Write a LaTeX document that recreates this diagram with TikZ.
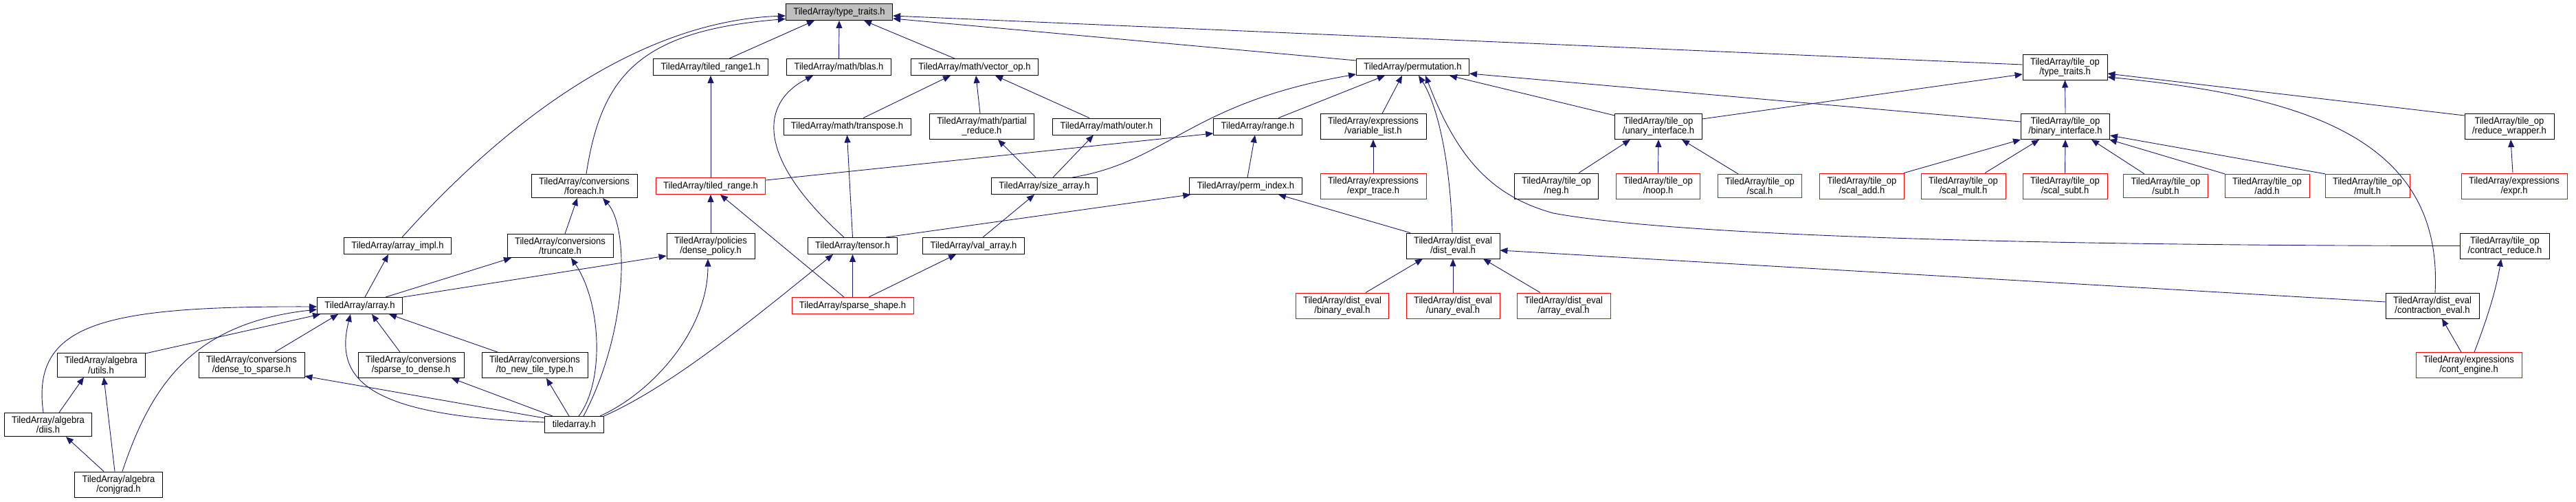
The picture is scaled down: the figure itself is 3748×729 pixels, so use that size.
\documentclass[tikz,border=0pt]{standalone}
\usepackage{fontspec}
\setmainfont{Liberation Sans}[FakeStretch=0.93]
\usetikzlibrary{arrows.meta}

\definecolor{edgeblue}{HTML}{191970}
\definecolor{topgray}{HTML}{BFBFBF}

\tikzset{
  hdr/.style={draw=black, line width=0.9pt, inner xsep=11pt, inner ysep=5pt,
    minimum height=24pt, align=center, font=\fontsize{14}{13}\selectfont},
  hdrred/.style={hdr, draw=red},
  hdrtop/.style={hdr, fill=topgray},
  dep/.style={draw=edgeblue, line width=0.9pt, ->},
}

\begin{document}
\begin{tikzpicture}[x=1pt, y=-1pt, >={Triangle[length=11pt, width=9pt]}]

\useasboundingbox (0,0) rectangle (3748,729);

\pgfmathsetmacro{\ya}{17.5}
\pgfmathsetmacro{\yb}{97.5}
\pgfmathsetmacro{\yc}{184}
\pgfmathsetmacro{\yd}{270.5}
\pgfmathsetmacro{\ye}{357.5}
\pgfmathsetmacro{\yf}{444.5}
\pgfmathsetmacro{\yg}{531}
\pgfmathsetmacro{\yh}{617.5}
\pgfmathsetmacro{\yi}{704.5}

\node[hdrtop] (tt) at (1221,\ya) {TiledArray/type\_traits.h};

\node[hdr] (tr1)   at (1034,\yb)   {TiledArray/tiled\_range1.h};
\node[hdr] (blas)  at (1220.5,\yb) {TiledArray/math/blas.h};
\node[hdr] (vop)   at (1418,\yb)   {TiledArray/math/vector\_op.h};
\node[hdr] (perm)  at (2055.5,\yb) {TiledArray/permutation.h};
\node[hdr] (tott)  at (3004.5,\yb) {TiledArray/tile\_op\\/type\_traits.h};

\node[hdr] (trans) at (1232.5,\yc) {TiledArray/math/transpose.h};
\node[hdr] (pred)  at (1428.5,\yc) {TiledArray/math/partial\\\_reduce.h};
\node[hdr] (outer) at (1610,\yc)   {TiledArray/math/outer.h};
\node[hdr] (range) at (1830,\yc)   {TiledArray/range.h};
\node[hdr] (varl)  at (1998,\yc)   {TiledArray/expressions\\/variable\_list.h};
\node[hdr] (unif)  at (2413,\yc)   {TiledArray/tile\_op\\/unary\_interface.h};
\node[hdr] (binif) at (3005,\yc)   {TiledArray/tile\_op\\/binary\_interface.h};
\node[hdr] (redw)  at (3651,\yc)   {TiledArray/tile\_op\\/reduce\_wrapper.h};

\node[hdr]    (foreach) at (850,\yd)    {TiledArray/conversions\\/foreach.h};
\node[hdrred] (trng)    at (1034,\yd)   {TiledArray/tiled\_range.h};
\node[hdr]    (sarr)    at (1519.5,\yd) {TiledArray/size\_array.h};
\node[hdr]    (pidx)    at (1812.5,\yd) {TiledArray/perm\_index.h};
\node[hdrred] (extr)    at (1998,\yd)   {TiledArray/expressions\\/expr\_trace.h};
\node[hdr]    (neg)     at (2264.5,\yd) {TiledArray/tile\_op\\/neg.h};
\node[hdrred] (noop)    at (2412.5,\yd) {TiledArray/tile\_op\\/noop.h};
\node[hdrred] (scal)    at (2560.5,\yd) {TiledArray/tile\_op\\/scal.h};
\node[hdrred] (scadd)   at (2709,\yd)   {TiledArray/tile\_op\\/scal\_add.h};
\node[hdrred] (scmul)   at (2856.5,\yd) {TiledArray/tile\_op\\/scal\_mult.h};
\node[hdrred] (scsub)   at (3004.5,\yd) {TiledArray/tile\_op\\/scal\_subt.h};
\node[hdrred] (subt)    at (3151,\yd)   {TiledArray/tile\_op\\/subt.h};
\node[hdrred] (add)     at (3298.5,\yd) {TiledArray/tile\_op\\/add.h};
\node[hdrred] (mult)    at (3444.5,\yd) {TiledArray/tile\_op\\/mult.h};
\node[hdrred] (expr)    at (3658,\yd)   {TiledArray/expressions\\/expr.h};

\node[hdr] (aimpl)   at (578.5,\ye)  {TiledArray/array\_impl.h};
\node[hdr] (trunc)   at (815,\ye)    {TiledArray/conversions\\/truncate.h};
\node[hdr] (dpol)    at (1034,\ye)   {TiledArray/policies\\/dense\_policy.h};
\node[hdr] (tensor)  at (1240.5,\ye) {TiledArray/tensor.h};
\node[hdr] (varr)    at (1416.5,\ye) {TiledArray/val\_array.h};
\node[hdr] (deval)   at (2114,\ye)   {TiledArray/dist\_eval\\/dist\_eval.h};
\node[hdr] (creduce) at (3644.5,\ye) {TiledArray/tile\_op\\/contract\_reduce.h};

\node[hdr]    (array)  at (523.5,\yf)  {TiledArray/array.h};
\node[hdrred] (sshape) at (1240.5,\yf) {TiledArray/sparse\_shape.h};
\node[hdrred] (beval)  at (1953,\yf)   {TiledArray/dist\_eval\\/binary\_eval.h};
\node[hdrred] (ueval)  at (2114,\yf)   {TiledArray/dist\_eval\\/unary\_eval.h};
\node[hdrred] (aeval)  at (2275,\yf)   {TiledArray/dist\_eval\\/array\_eval.h};
\node[hdr]    (ceval)  at (3539,\yf)   {TiledArray/dist\_eval\\/contraction\_eval.h};

\node[hdr]    (utils) at (147,\yg)  {TiledArray/algebra\\/utils.h};
\node[hdr]    (d2s)   at (366,\yg)  {TiledArray/conversions\\/dense\_to\_sparse.h};
\node[hdr]    (s2d)   at (598,\yg)  {TiledArray/conversions\\/sparse\_to\_dense.h};
\node[hdr]    (tntt)  at (778,\yg)  {TiledArray/conversions\\/to\_new\_tile\_type.h};
\node[hdrred] (ceng)  at (3592,\yg) {TiledArray/expressions\\/cont\_engine.h};

\node[hdr] (diis)       at (70,\yh)    {TiledArray/algebra\\/diis.h};
\node[hdr] (tiledarray) at (835.5,\yh) {tiledarray.h};

\node[hdr] (conjgrad) at (172.5,\yi) {TiledArray/algebra\\/conjgrad.h};

% into type_traits.h
\draw[dep] ([xshift=6.5pt]aimpl.north) .. controls (760,150) and (950,30) .. ([yshift=-5.5pt]tt.west);
\draw[dep] ([xshift=3pt]foreach.north) .. controls (875,110) and (930,45) .. ([yshift=-10pt]tt.west);
\draw[dep] ([xshift=27pt]tr1.north) -- ([xshift=-36pt]tt.south);
\draw[dep] (blas.north) -- (tt.south);
\draw[dep] ([xshift=-29pt]vop.north) -- ([xshift=36pt]tt.south);
\draw[dep] ([yshift=9.5pt]perm.west) -- ([yshift=-9.5pt]tt.east);
\draw[dep] ([yshift=3.5pt]tott.west) -- ([yshift=-5.5pt]tt.east);

\draw[dep] (trng.north) -- (tr1.south);
\draw[dep] ([xshift=-12.5pt]tensor.north) .. controls (1100,230) and (1105,150) .. ([xshift=-37.5pt]blas.south);
\draw[dep] ([xshift=23.5pt]trans.north) -- ([xshift=-35pt]vop.south);
\draw[dep] ([xshift=-2.5pt]pred.north) -- ([xshift=2pt]vop.south);
\draw[dep] ([xshift=-25pt]outer.north) -- ([xshift=30pt]vop.south);
\draw[dep] (tensor.north) -- (trans.south);
\draw[dep] ([xshift=-12.5pt]sarr.north) -- ([xshift=23.5pt]pred.south);
\draw[dep] ([xshift=12.5pt]sarr.north) -- ([xshift=-19pt]outer.south);

% into permutation.h
\draw[dep] ([xshift=40.5pt]sarr.north) .. controls (1700,235) and (1730,150) .. ([yshift=-10.5pt]perm.west);
\draw[dep] ([xshift=30pt]range.north) -- ([xshift=-40.5pt]perm.south);
\draw[dep] ([xshift=13pt]varl.north) -- ([xshift=-15.5pt]perm.south);
\draw[dep] ([xshift=-1pt]deval.north) .. controls (2110,230) and (2090,150) .. ([xshift=8.5pt]perm.south);
\draw[dep] (creduce.west) .. controls (3000,357) and (2450,345) .. (2260,310)
  .. controls (2170,285) and (2120,230) .. ([xshift=18.5pt]perm.south);
\draw[dep] ([yshift=16pt]unif.west) -- ([xshift=53.5pt]perm.south);
\draw[dep] ([yshift=7pt]binif.west) -- ([yshift=-9.5pt]perm.east);

\draw[dep] ([xshift=2.5pt]pidx.north) -- ([xshift=-4pt]range.south);
\draw[dep] ([yshift=8.5pt]trng.east) -- ([yshift=-10pt]range.west);
\draw[dep] ([xshift=48.5pt]tensor.north) -- ([xshift=2pt]pidx.south west);
\draw[dep] ([xshift=13.5pt]varr.north) -- ([xshift=-14.5pt]sarr.south);
\draw[dep] ([xshift=-62pt]deval.north) -- ([xshift=47.5pt]pidx.south);
\draw[dep] (extr.north) -- (varl.south);

% tile_op
\draw[dep] ([yshift=11pt]unif.east) -- ([yshift=-10.5pt]tott.west);
\draw[dep] (binif.north) -- (tott.south);
\draw[dep] ([yshift=16pt]redw.west) -- ([yshift=-9.5pt]tott.east);
\draw[dep] ([xshift=4pt]ceval.north) .. controls (3555,200) and (3350,140) .. ([yshift=-14.5pt]tott.east);
\draw[dep] ([xshift=32.5pt]neg.north) -- ([xshift=-41pt]unif.south);
\draw[dep] (noop.north) -- (unif.south);
\draw[dep] ([xshift=-31.5pt]scal.north) -- ([xshift=34pt]unif.south);
\draw[dep] ([xshift=61pt]scadd.north) -- ([xshift=-65pt]binif.south);
\draw[dep] ([xshift=31.5pt]scmul.north) -- ([xshift=-38pt]binif.south);
\draw[dep] (scsub.north) -- (binif.south);
\draw[dep] ([xshift=-31pt]subt.north) -- ([xshift=38pt]binif.south);
\draw[dep] ([xshift=-61.5pt]add.north) -- ([xshift=-1pt]binif.south east);
\draw[dep] ([xshift=-61.5pt]mult.north) -- ([yshift=-13pt]binif.east);
\draw[dep] ([xshift=-2pt]expr.north) -- ([xshift=2pt]redw.south);
\draw[dep] ([xshift=8pt]ceng.north) .. controls (3620,460) and (3632,420) .. ([xshift=-5.5pt]creduce.south);
\draw[dep] ([xshift=-11pt]ceng.north) -- ([xshift=14pt]ceval.south);

% dist_eval
\draw[dep] ([yshift=5.5pt]ceval.west) -- ([yshift=-6.5pt]deval.east);
\draw[dep] ([xshift=34pt]beval.north) -- ([xshift=-44pt]deval.south);
\draw[dep] (ueval.north) -- (deval.south);
\draw[dep] ([xshift=-34pt]aeval.north) -- ([xshift=44pt]deval.south);

% tiled_range.h, tensor.h
\draw[dep] (dpol.north) -- (trng.south);
\draw[dep] ([xshift=-12.5pt]sshape.north) -- ([xshift=14pt]trng.south);
\draw[dep] (sshape.north) -- (tensor.south);
\draw[dep] ([xshift=23.5pt]sshape.north) -- ([xshift=-25.5pt]varr.south);

% conversions, array.h
\draw[dep] ([xshift=7pt]trunc.north) -- ([xshift=-10pt]foreach.south);
\draw[dep] ([xshift=13.5pt]tiledarray.north) .. controls (915,480) and (915,330) .. ([xshift=27pt]foreach.south);
\draw[dep] ([xshift=6.5pt]tiledarray.north) .. controls (880,555) and (875,440) .. ([xshift=16pt]trunc.south);
\draw[dep] ([xshift=37.5pt]array.north) -- ([xshift=-71pt]trunc.south);
\draw[dep] (array.north east) -- ([yshift=-14.5pt]dpol.west);
\draw[dep] ([xshift=37.5pt]tiledarray.north) .. controls (950,570) and (1030,480) .. ([xshift=-4pt]dpol.south);
\draw[dep] (tiledarray.north east) .. controls (980,560) and (1100,460) .. ([xshift=-28.5pt]tensor.south);
\draw[dep] ([xshift=7.5pt]array.north) -- ([xshift=-13.5pt]aimpl.south);

\draw[dep] ([yshift=17pt]utils.east) -- ([xshift=5pt]array.south west);
\draw[dep] ([xshift=-7pt]diis.north) .. controls (45,470) and (150,445) .. ([yshift=-1.5pt]array.west);
\draw[dep] ([xshift=5.5pt]conjgrad.north) .. controls (220,560) and (280,470) .. ([yshift=-5.5pt]array.west);
\draw[dep] ([xshift=34pt]d2s.north) -- ([xshift=-31.5pt]array.south);
\draw[dep] ([xshift=-16pt]s2d.north) -- ([xshift=17.5pt]array.south);
\draw[dep] ([xshift=-54pt]tntt.north) -- ([xshift=42.5pt]array.south);
\draw[dep] ([yshift=3.5pt]tiledarray.west) .. controls (540,605) and (485,555) .. ([xshift=-13.5pt]array.south);
\draw[dep] ([yshift=9.5pt]tiledarray.west) -- ([yshift=-16pt]d2s.east);
\draw[dep] ([xshift=-31.5pt]tiledarray.north) -- ([xshift=59pt]s2d.south);
\draw[dep] ([xshift=-7.5pt]tiledarray.north) -- ([xshift=17pt]tntt.south);

\draw[dep] ([xshift=16pt]diis.north) -- ([xshift=-25pt]utils.south);
\draw[dep] ([xshift=-5.5pt]conjgrad.north) -- ([xshift=4pt]utils.south);
\draw[dep] ([xshift=-21.5pt]conjgrad.north) -- ([xshift=26pt]diis.south);

\end{tikzpicture}
\end{document}
